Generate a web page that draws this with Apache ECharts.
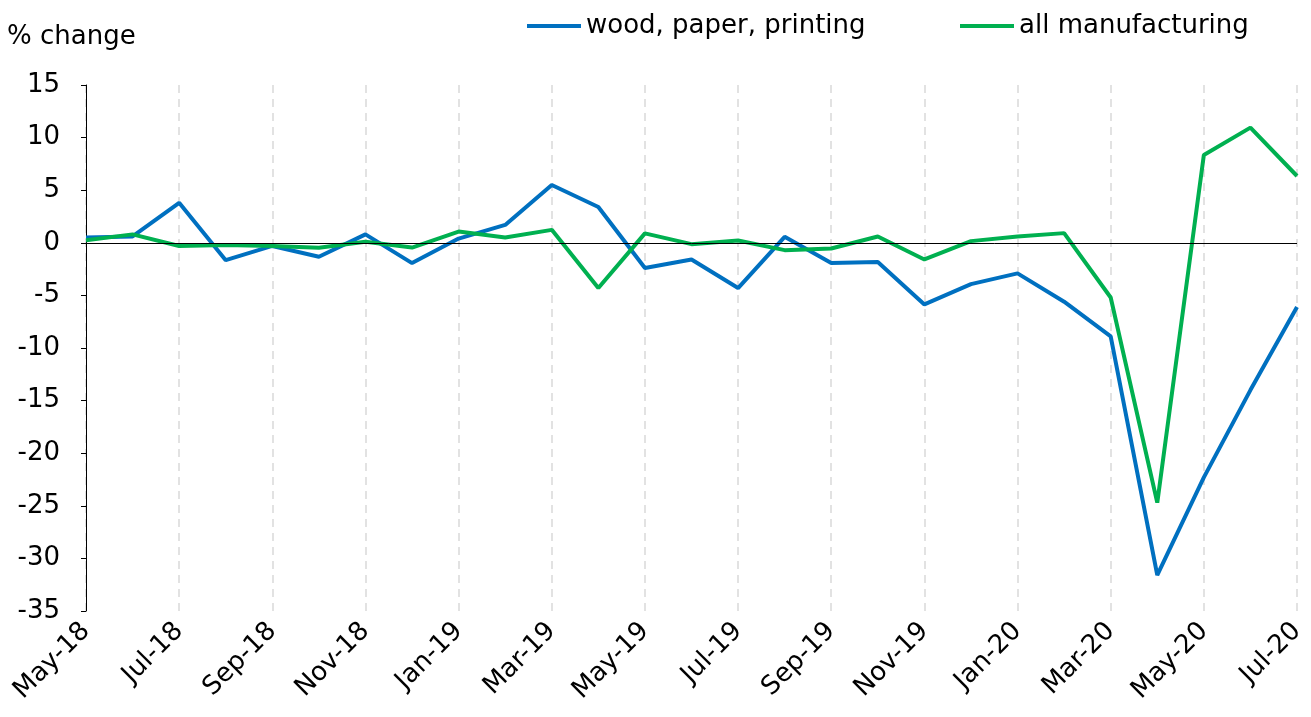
<!DOCTYPE html>
<html>
<head>
<meta charset="utf-8">
<script src="https://cdn.jsdelivr.net/npm/echarts@6/dist/echarts.min.js"></script>
<style>
html,body{margin:0;padding:0;background:#fff;}
#chart{width:1311px;height:717px;}
</style>
</head>
<body>
<div id="chart"></div>
<script>
var categories = ['May-18','Jun-18','Jul-18','Aug-18','Sep-18','Oct-18','Nov-18','Dec-18',
  'Jan-19','Feb-19','Mar-19','Apr-19','May-19','Jun-19','Jul-19','Aug-19','Sep-19','Oct-19','Nov-19','Dec-19',
  'Jan-20','Feb-20','Mar-20','Apr-20','May-20','Jun-20','Jul-20'];
var woodPaperPrinting = [0.5, 0.6, 3.8, -1.65, -0.3, -1.33, 0.8, -1.93, 0.4, 1.7, 5.5, 3.4, -2.4, -1.58, -4.3, 0.57,
  -1.93, -1.83, -5.86, -3.93, -2.91, -5.6, -8.9, -31.6, -22.3, -14.0, -6.1];
var allManufacturing = [0.25, 0.8, -0.3, -0.2, -0.3, -0.47, 0.1, -0.45, 1.07, 0.5, 1.23, -4.3, 0.9, -0.13, 0.22, -0.7,
  -0.54, 0.6, -1.58, 0.16, 0.6, 0.92, -5.2, -24.7, 8.35, 10.95, 6.35];
var seriesNames = ['wood, paper, printing', 'all manufacturing'];
var yMin = -35, yMax = 15, yInterval = 5;
var axisTitle = '% change';

var FONT = 'DejaVu Sans';
var FS = 26;
var chart = echarts.init(document.getElementById('chart'));
chart.setOption({
  animation: false,
  backgroundColor: '#fff',
  textStyle: {fontFamily: FONT},
  graphic: [{
    type: 'text', left: 7, top: 24,
    style: {text: axisTitle, fontFamily: FONT, fontSize: FS, fill: '#000'}
  }],
  legend: [
    {data: [seriesNames[0]], left: 522, top: 8, itemWidth: 54, itemHeight: 4, icon: 'rect',
     textStyle: {fontFamily: FONT, fontSize: FS, color: '#000'}},
    {data: [seriesNames[1]], left: 955, top: 8, itemWidth: 54, itemHeight: 4, icon: 'rect',
     textStyle: {fontFamily: FONT, fontSize: FS, color: '#000'}}
  ],
  grid: {left: 86, right: 14, top: 85, bottom: 106, containLabel: false},
  xAxis: {
    type: 'category', data: categories, boundaryGap: false,
    axisLine: {show: false}, axisTick: {show: false},
    axisLabel: {interval: 1, rotate: 45, margin: 16, fontFamily: FONT, fontSize: FS, color: '#000'},
    splitLine: {show: true, interval: 1, lineStyle: {type: [8, 6], color: '#d9d9d9', width: 1.5}}
  },
  yAxis: {
    type: 'value', min: yMin, max: yMax, interval: yInterval,
    axisLine: {show: true, lineStyle: {color: '#000', width: 1}},
    axisTick: {show: true, length: 5, lineStyle: {color: '#000'}},
    axisLabel: {margin: 26, fontFamily: FONT, fontSize: FS, color: '#000'},
    splitLine: {show: false}
  },
  series: [
    {name: seriesNames[0], type: 'line', data: woodPaperPrinting, symbol: 'none',
     lineStyle: {color: '#0070C0', width: 4}, itemStyle: {color: '#0070C0'},
     markLine: {silent: true, symbol: 'none', label: {show: false},
       lineStyle: {color: '#000', width: 1, type: 'solid'}, data: [{yAxis: 0}]}},
    {name: seriesNames[1], type: 'line', data: allManufacturing, symbol: 'none',
     lineStyle: {color: '#00B050', width: 4}, itemStyle: {color: '#00B050'}}
  ]
});
</script>
</body>
</html>
